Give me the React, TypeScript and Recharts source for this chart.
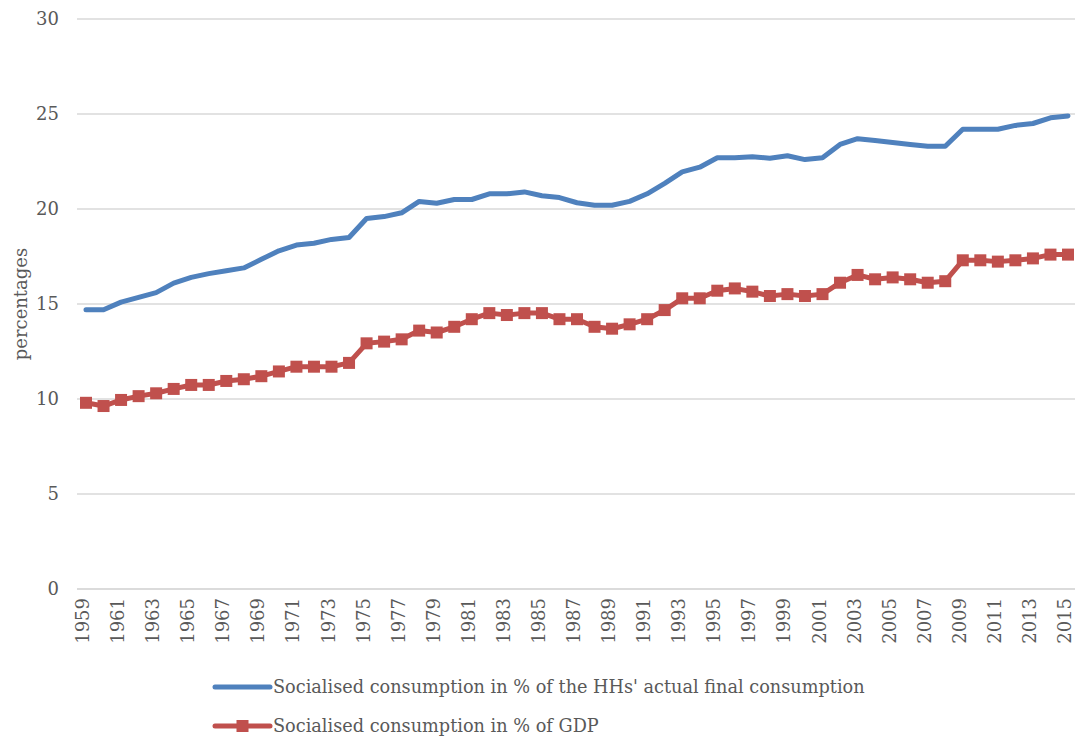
import { LineChart, Line, XAxis, YAxis, CartesianGrid, Legend } from "recharts";

const years = [
  1959, 1960, 1961, 1962, 1963, 1964, 1965, 1966, 1967, 1968, 1969, 1970, 1971, 1972, 1973, 1974, 1975, 1976, 1977,
  1978, 1979, 1980, 1981, 1982, 1983, 1984, 1985, 1986, 1987, 1988, 1989, 1990, 1991, 1992, 1993, 1994, 1995, 1996,
  1997, 1998, 1999, 2000, 2001, 2002, 2003, 2004, 2005, 2006, 2007, 2008, 2009, 2010, 2011, 2012, 2013, 2014, 2015,
];

const shareOfActualConsumption = [
  14.7, 14.7, 15.1, 15.35, 15.6, 16.1, 16.4, 16.6, 16.75, 16.9, 17.35, 17.8, 18.1, 18.2, 18.4, 18.5, 19.5, 19.6, 19.8,
  20.4, 20.3, 20.5, 20.5, 20.8, 20.8, 20.9, 20.7, 20.6, 20.33, 20.2, 20.2, 20.4, 20.8, 21.35, 21.95, 22.2, 22.7, 22.7,
  22.75, 22.67, 22.8, 22.6, 22.7, 23.4, 23.7, 23.6, 23.5, 23.4, 23.3, 23.3, 24.2, 24.2, 24.2, 24.4, 24.5, 24.8, 24.9,
];

const shareOfGdp = [
  9.8, 9.63, 9.95, 10.15, 10.3, 10.53, 10.74, 10.74, 10.95, 11.04, 11.2, 11.45, 11.7, 11.7, 11.7, 11.9, 12.93, 13.02,
  13.14, 13.6, 13.5, 13.8, 14.2, 14.52, 14.42, 14.52, 14.52, 14.2, 14.2, 13.8, 13.7, 13.93, 14.2, 14.68, 15.3, 15.3,
  15.7, 15.82, 15.65, 15.42, 15.52, 15.42, 15.52, 16.12, 16.53, 16.3, 16.4, 16.3, 16.12, 16.2, 17.3, 17.3, 17.23, 17.3,
  17.4, 17.6, 17.6,
];

const yTicks = [0, 5, 10, 15, 20, 25, 30];

const seriesNames = [
  "Socialised consumption in % of the HHs' actual final consumption",
  "Socialised consumption in % of GDP",
];

const BLUE = "#4f81bd";
const RED = "#c0504d";
const TEXT = "#595959";
const FONT = "'DejaVu Serif', serif";

const data = years.map((y, i) => ({
  year: String(y),
  actual: shareOfActualConsumption[i],
  gdp: shareOfGdp[i],
}));

function YearTick(props: any) {
  const { x, y, payload } = props;
  return (
    <text
      transform={`translate(${x},${y}) rotate(-90)`}
      textAnchor="end"
      dy={3}
      fill={TEXT}
      fontSize={18}
      fontFamily={FONT}
    >
      {payload.value}
    </text>
  );
}

function SquareDot(props: any) {
  const { cx, cy, index } = props;
  if (cx == null || cy == null) return <g key={`d-${index}`} />;
  return <rect key={`d-${index}`} x={cx - 6} y={cy - 6} width={12} height={12} fill={RED} />;
}

function ChartLegend() {
  const row = (top: number, color: string, label: string, marker: boolean) => (
    <div style={{ position: "absolute", left: 212, top, height: 20, display: "flex", alignItems: "center" }}>
      <svg width={61} height={20} style={{ display: "block" }}>
        <line x1={3} y1={10} x2={58} y2={10} stroke={color} strokeWidth={5} strokeLinecap="round" />
        {marker && <rect x={24.5} y={4} width={12} height={12} fill={color} />}
      </svg>
      <span style={{ lineHeight: "20px", whiteSpace: "nowrap" }}>{label}</span>
    </div>
  );
  return (
    <div style={{ position: "relative", width: 1078, height: 83, fontFamily: FONT, fontSize: 17.7, color: TEXT }}>
      {row(18, BLUE, seriesNames[0], false)}
      {row(57, RED, seriesNames[1], true)}
    </div>
  );
}

export default function App() {
  return (
    <div style={{ position: "absolute", left: 0, top: 0, width: 1078, height: 742, background: "#fff" }}>
      <LineChart width={1078} height={742} data={data} margin={{ top: 19, right: 3, left: 0, bottom: 0 }}>
        <CartesianGrid vertical={false} stroke="#d9d9d9" strokeWidth={1.5} />
        <XAxis
          dataKey="year"
          interval={1}
          height={70}
          padding={{ left: 9, right: 7 }}
          tick={<YearTick />}
          tickLine={false}
          tickSize={0}
          tickMargin={9}
          axisLine={{ stroke: "#d9d9d9", strokeWidth: 1.5 }}
        />
        <YAxis
          width={77}
          domain={[0, 30]}
          ticks={yTicks}
          axisLine={false}
          tickLine={false}
          tickSize={0}
          tickMargin={18}
          tick={{ fill: TEXT, fontSize: 18, fontFamily: FONT }}
          label={{
            value: "percentages",
            angle: -90,
            position: "center",
            dx: -18,
            style: { fill: TEXT, fontSize: 18, fontFamily: FONT, textAnchor: "middle" },
          }}
        />
        <Legend
          verticalAlign="bottom"
          content={() => <ChartLegend />}
          wrapperStyle={{ left: 0, width: 1078, height: 83 }}
        />
        <Line
          dataKey="actual"
          name={seriesNames[0]}
          stroke={BLUE}
          strokeWidth={5}
          strokeLinecap="round"
          strokeLinejoin="round"
          dot={false}
          activeDot={false}
          isAnimationActive={false}
        />
        <Line
          dataKey="gdp"
          name={seriesNames[1]}
          stroke={RED}
          strokeWidth={5}
          strokeLinejoin="round"
          dot={<SquareDot />}
          activeDot={false}
          isAnimationActive={false}
        />
      </LineChart>
    </div>
  );
}
